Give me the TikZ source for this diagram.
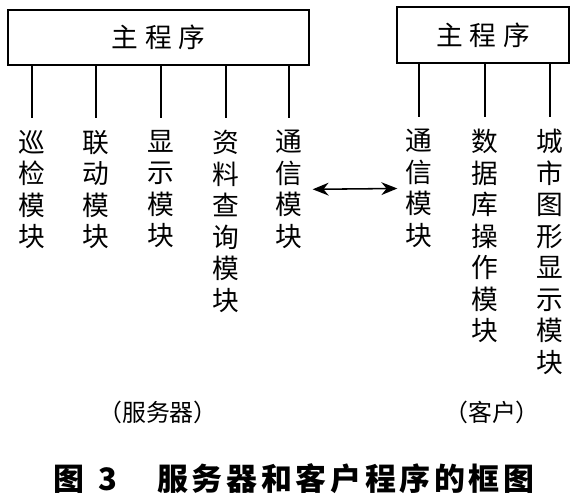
\documentclass[tikz,border=0pt]{standalone}
\usepackage{fontspec}
\setmainfont{Noto Sans CJK SC}
\usetikzlibrary{arrows.meta,positioning}

\begin{document}
\begin{tikzpicture}[
  x=0.025cm, y=-0.025cm,
  prog/.style={draw, line width=1.2pt, inner sep=0pt, font=\fontsize{19}{22}\selectfont\addfontfeature{LetterSpace=25}},
  mod/.style={align=center, anchor=north, inner xsep=0pt, inner ysep=0.3cm, font=\fontsize{19}{22.4}\selectfont},
  side/.style={font=\fontsize{17}{20}\selectfont},
  link/.style={line width=1.1pt},
  arr/.style={{Stealth[length=4mm,width=3.2mm]}-{Stealth[length=4mm,width=3.2mm]}, line width=1.1pt}
]
\useasboundingbox (0,0) rectangle (580,499);

% main programs
\node[prog, minimum width=7.525cm, minimum height=1.375cm] (srv) at (158.5,37.5) {主程序};
\node[prog, minimum width=4.3cm, minimum height=1.4cm] (cli) at (483,35) {主程序};

% server modules
\node[mod] (m1) at (32,118) {巡\\检\\模\\块};
\node[mod] (m2) at (96,118) {联\\动\\模\\块};
\node[mod] (m3) at (161,118) {显\\示\\模\\块};
\node[mod] (m4) at (226,118) {资\\料\\查\\询\\模\\块};
\node[mod] (m5) at (289,118) {通\\信\\模\\块};

% client modules
\node[mod] (c1) at (419,117) {通\\信\\模\\块};
\node[mod] (c2) at (485,117) {数\\据\\库\\操\\作\\模\\块};
\node[mod] (c3) at (550,117) {城\\市\\图\\形\\显\\示\\模\\块};

\foreach \m in {m1,m2,m3,m4,m5}
  \draw[link] (srv.south -| \m.north) -- (\m.north);
\foreach \c in {c1,c2,c3}
  \draw[link] (cli.south -| \c.north) -- (\c.north);

\draw[arr, shorten <=0.25cm, shorten >=0.2cm] (m5.east) -- (c1.west);

\node[side] (lsrv) at (158,412) {（服务器）};
\node[side] (lcli) at (492,412) {（客户）};

\node[font=\fontsize{22}{26}\selectfont\bfseries\addfontfeature{LetterSpace=12}] (cap) at (294,479)
  {图\hspace{0.35cm}3\hspace{1.0cm}服务器和客户程序的框图};
\end{tikzpicture}
\end{document}
